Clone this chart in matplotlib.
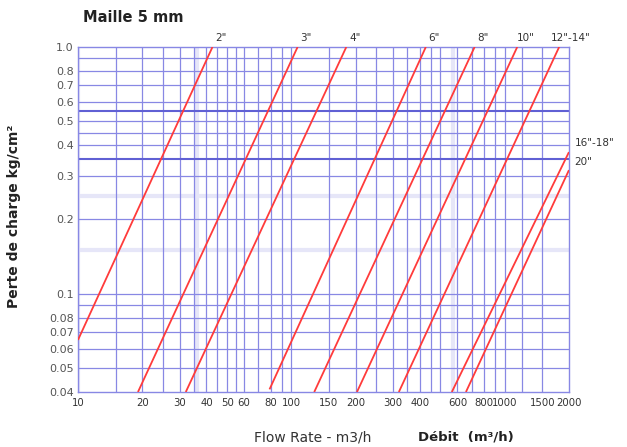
import matplotlib.pyplot as plt
from matplotlib.ticker import FixedLocator, NullLocator

# pipe sizes and the two end points of every pressure-drop line
sizes = ['2"', '3"', '4"', '6"', '8"', '10"', '12"-14"', '16"-18"', '20"']
q_start = [10, 19.1, 32, 79, 128, 203, 319, 565, 658]
dp_start = [0.065, 0.04, 0.04, 0.041, 0.04, 0.04, 0.04, 0.04, 0.04]
q_end = [42.7, 107, 181, 427, 723, 1145, 1800, 2000, 2000]
dp_end = [1.0, 1.0, 1.0, 1.0, 1.0, 1.0, 1.0, 0.375, 0.317]

x_ticks = [10, 20, 30, 40, 50, 60, 80, 100, 150, 200, 300, 400, 600, 800, 1000, 1500, 2000]
y_ticks = [0.04, 0.05, 0.06, 0.07, 0.08, 0.1, 0.2, 0.3, 0.4, 0.5, 0.6, 0.7, 0.8, 1.0]
y_tick_labels = ['0.04', '0.05', '0.06', '0.07', '0.08', '0.1', '0.2', '0.3', '0.4',
                 '0.5', '0.6', '0.7', '0.8', '1.0']

x_grid = [15, 20, 25, 30, 35, 40, 45, 50, 55, 60, 70, 80, 90, 100, 150, 200, 250, 300,
          350, 400, 450, 500, 600, 700, 800, 900, 1000, 1200, 1500]
x_grid_pale = [10, 36, 570]
y_grid = [0.05, 0.06, 0.07, 0.08, 0.09, 0.1, 0.2, 0.3, 0.4, 0.45, 0.5, 0.6, 0.7, 0.8, 0.9]
y_grid_dark = [0.35, 0.55]
y_grid_pale = [0.15, 0.25]

fig = plt.figure(figsize=(6.27, 4.47), dpi=100)
ax = fig.add_axes([0.1244, 0.123, 0.783, 0.772])
ax.set_xscale('log')
ax.set_yscale('log')
ax.set_xlim(10, 2000)
ax.set_ylim(0.04, 1.0)

grid_col = '#8888e4'
for x in x_grid_pale:
    ax.axvline(x, color='#e6e6f8', lw=3, zorder=0)
for y in y_grid_pale:
    ax.axhline(y, color='#e6e6f8', lw=3, zorder=0)
for x in x_grid:
    ax.axvline(x, color=grid_col, lw=0.9, zorder=1)
for y in y_grid:
    ax.axhline(y, color=grid_col, lw=0.9, zorder=1)
for y in y_grid_dark:
    ax.axhline(y, color='#6060d4', lw=1.5, zorder=1)

for s in ax.spines.values():
    s.set_color(grid_col)
    s.set_linewidth(1.0)

# red pressure-drop lines
for i in range(len(sizes)):
    ax.plot([q_start[i], q_end[i]], [dp_start[i], dp_end[i]], color='#ff3b3b',
            lw=1.3, zorder=3, solid_capstyle='butt')

# size labels above the top edge and at the right edge
for i in range(7):
    ax.annotate(sizes[i], xy=(q_end[i], 1.0), xytext=(6 if i < 6 else 8, 3),
                textcoords='offset points', ha='center', va='bottom',
                fontsize=7.5, color='#333333', annotation_clip=False)
ax.annotate(sizes[7], xy=(2000, dp_end[7]), xytext=(4, 3), textcoords='offset points',
            ha='left', va='bottom', fontsize=7.5, color='#333333', annotation_clip=False)
ax.annotate(sizes[8], xy=(2000, dp_end[8]), xytext=(4, 2), textcoords='offset points',
            ha='left', va='bottom', fontsize=7.5, color='#333333', annotation_clip=False)

ax.xaxis.set_major_locator(FixedLocator(x_ticks))
ax.xaxis.set_minor_locator(NullLocator())
ax.set_xticklabels([str(v) for v in x_ticks])
ax.yaxis.set_major_locator(FixedLocator(y_ticks))
ax.yaxis.set_minor_locator(NullLocator())
ax.set_yticklabels(y_tick_labels)
ax.tick_params(axis='both', length=0, labelsize=8, colors='#555555', pad=3)
ax.tick_params(axis='x', labelsize=7.3, labelcolor='#333333', pad=4)

fig.text(0.133, 0.945, 'Maille 5 mm', fontsize=10.5, fontweight='bold', color='#222222',
         ha='left', va='bottom')
fig.text(0.022, 0.515, 'Perte de charge kg/cm²', rotation=90, fontsize=10,
         fontweight='bold', color='#222222', ha='center', va='center')
fig.text(0.498, 0.022, 'Flow Rate - m3/h', fontsize=10, color='#333333',
         ha='center', va='center')
fig.text(0.743, 0.022, 'Débit  (m³/h)', fontsize=9.5, fontweight='bold', color='#222222',
         ha='center', va='center')

fig.savefig('out.png', dpi=100)
